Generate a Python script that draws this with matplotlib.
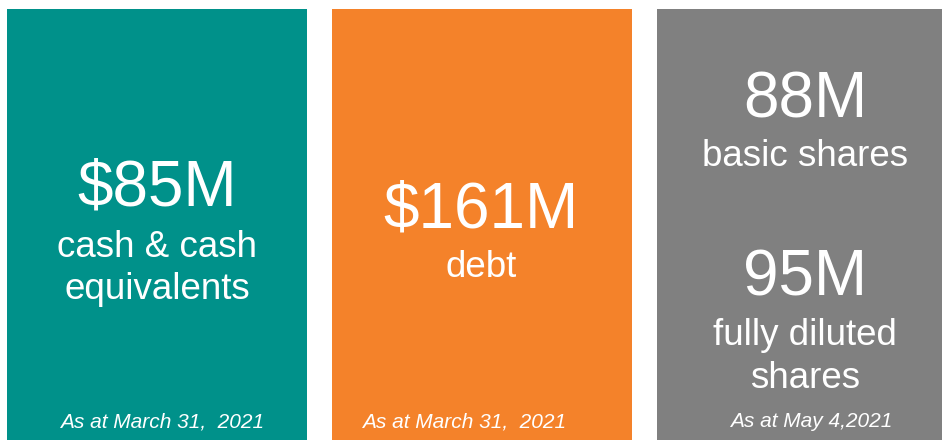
import matplotlib.pyplot as plt

plt.rcParams['font.family'] = ['Liberation Sans', 'DejaVu Sans']

#---------------------------------------------------------------------------------
# Dados dos painéis

panel_left = [7, 332, 657]
panel_width = [300, 300, 300]
panel_colors = ['#00918A', '#F4822A', '#808080']

big_values = [['$85M'], ['$161M'], ['88M', '95M']]
captions = [['cash & cash', 'equivalents'], ['debt'], ['basic shares', 'fully diluted', 'shares']]
footers = ['As at March 31,  2021', 'As at March 31,  2021', 'As at May 4,2021']

# posições (baseline) em pixels
text_x = [157, 481, 805]
big_y = [[206], [227], [118, 295]]
caption_y = [[257, 299], [277], [166, 345, 388]]
footer_x = [162, 464, 811]

#---------------------------------------------------------------------------------
# Figura

fig = plt.figure(figsize=(9.42, 4.4), dpi=100)
ax = fig.add_axes([0, 0, 1, 1])
ax.set_xlim(0, 942)
ax.set_ylim(440, 0)
ax.axis('off')

ax.bar(panel_left, 440 - 9, width=panel_width, bottom=9, align='edge', color=panel_colors)

for i in range(len(panel_left)):
    for txt, y in zip(big_values[i], big_y[i]):
        ax.text(text_x[i], y, txt, color='white', fontsize=46, ha='center', va='baseline')
    for txt, y in zip(captions[i], caption_y[i]):
        ax.text(text_x[i], y, txt, color='white', fontsize=26.5, ha='center', va='baseline')
    ax.text(footer_x[i], 427, footers[i], color='white', fontsize=15, style='italic',
            ha='center', va='baseline')

fig.savefig('out.png', dpi=100)
